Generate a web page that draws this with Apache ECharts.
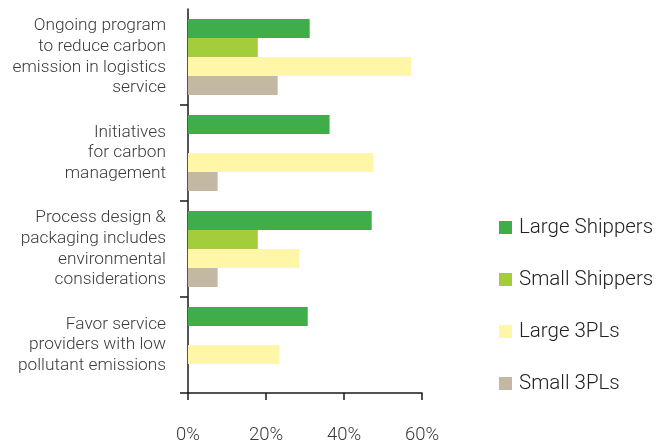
<!DOCTYPE html>
<html>
<head>
<meta charset="utf-8">
<script src="https://cdn.jsdelivr.net/npm/echarts@6/dist/echarts.min.js"></script>
<style>
  html, body { margin: 0; padding: 0; background: #ffffff; }
  #chart { width: 660px; height: 445px; }
</style>
</head>
<body>
<div id="chart"></div>
<script>
// Survey categories, top to bottom
const categories = [
  'Ongoing program\nto reduce carbon\nemission in logistics\nservice',
  'Initiatives\nfor carbon\nmanagement',
  'Process design &\npackaging includes\nenvironmental\nconsiderations',
  'Favor service\nproviders with low\npollutant emissions'
];

// Share of respondents (%) per group
const largeShippers = [31.2, 36.3, 47.1, 30.7];
const smallShippers = [17.9, null, 17.9, null];
const large3PLs     = [57.3, 47.6, 28.5, 23.5];
const small3PLs     = [23.0, 7.6, 7.6, null];

const xTicks = [0, 20, 40, 60];

const FONT = 'Roboto';
const TEXT = '#3a3a3a';

const chart = echarts.init(document.getElementById('chart'));

function barSeries(name, data, color) {
  return {
    name: name,
    type: 'bar',
    data: data,
    barWidth: 19,
    barGap: '0%',
    itemStyle: { color: color },
    emphasis: { disabled: true }
  };
}

chart.setOption({
  animation: false,
  textStyle: { fontFamily: FONT, fontWeight: 300, color: TEXT },
  grid: { left: 188, top: 9, width: 234, height: 384, containLabel: false },
  xAxis: {
    type: 'value',
    min: xTicks[0],
    max: xTicks[xTicks.length - 1],
    interval: 20,
    axisLine: { show: true, lineStyle: { color: '#1a1a1a', width: 1.5 } },
    axisTick: { show: true, length: 7, lineStyle: { color: '#1a1a1a', width: 1.5 } },
    splitLine: { show: false },
    axisLabel: {
      margin: 33,
      fontSize: 18.5,
      fontFamily: FONT,
      fontWeight: 300,
      color: TEXT,
      formatter: v => v + '%'
    }
  },
  yAxis: {
    type: 'category',
    inverse: true,
    data: categories,
    axisLine: { show: true, lineStyle: { color: '#1a1a1a', width: 1.5 } },
    axisTick: {
      show: true,
      length: 8,
      interval: i => i !== 0,
      lineStyle: { color: '#1a1a1a', width: 1.5 }
    },
    axisLabel: {
      margin: 22,
      fontSize: 17.3,
      lineHeight: 20.7,
      align: 'right',
      fontFamily: FONT,
      fontWeight: 300,
      color: TEXT
    }
  },
  legend: {
    orient: 'vertical',
    left: 499,
    top: 217,
    padding: 0,
    itemWidth: 13,
    itemHeight: 13,
    itemGap: 31,
    icon: 'rect',
    selectedMode: false,
    textStyle: {
      fontSize: 20.5,
      lineHeight: 20,
      fontFamily: FONT,
      fontWeight: 300,
      color: '#222',
      padding: [0, 0, 0, 2]
    },
    data: ['Large Shippers', 'Small Shippers', 'Large 3PLs', 'Small 3PLs']
  },
  series: [
    barSeries('Large Shippers', largeShippers, '#3fae49'),
    barSeries('Small Shippers', smallShippers, '#a3cd3b'),
    barSeries('Large 3PLs', large3PLs, '#fff7a7'),
    barSeries('Small 3PLs', small3PLs, '#c3b9a3')
  ]
});
</script>
</body>
</html>
